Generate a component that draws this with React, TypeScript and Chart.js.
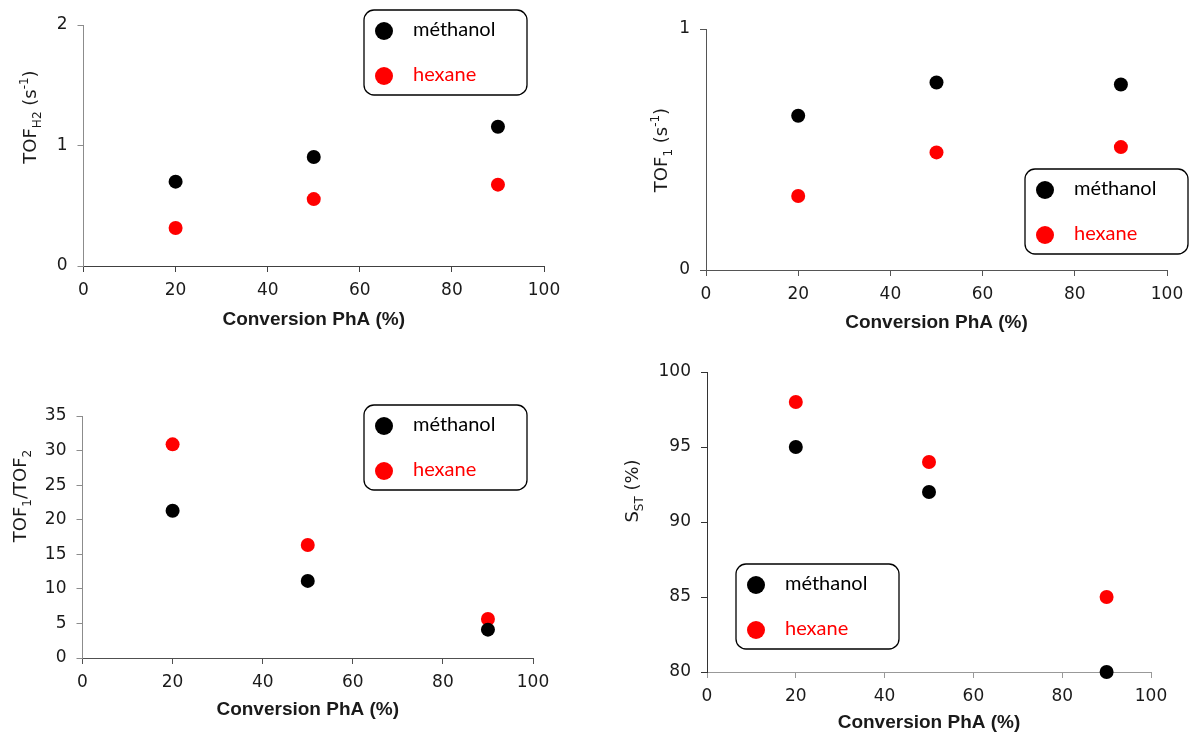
import React, { useEffect, useRef } from 'react';
import { Chart, registerables } from 'chart.js';

Chart.register(...registerables);

// ---------- data ----------
const conversion = [20, 50, 90];
const seriesLabels = ['méthanol', 'hexane'];
const seriesColors = ['#000000', '#ff0000'];

const tofH2Methanol = [0.7, 0.905, 1.155];
const tofH2Hexane = [0.315, 0.555, 0.675];

const tof1Methanol = [0.64, 0.778, 0.77];
const tof1Hexane = [0.307, 0.488, 0.51];

const ratioMethanol = [21.3, 11.15, 4.1];
const ratioHexane = [30.9, 16.35, 5.65];

const sstMethanol = [95, 92, 80];
const sstHexane = [98, 94, 85];

const xTitle = 'Conversion PhA (%)';
const xMin = 0;
const xMax = 100;
const xStep = 20;

// ---------- panel layout ----------
type Seg = [string, string];
interface Panel {
  methanol: number[];
  hexane: number[];
  yMin: number;
  yMax: number;
  yStep: number;
  yTitle: Seg[];
  area: { left: number; top: number; right: number; bottom: number };
  yTitleX: number;
  yTitleY: number;
  legend: { x: number; y: number };
  xTitleOff: number;
  yColor: string;
  xColor: string;
}

const panels: Panel[] = [
  {
    methanol: tofH2Methanol,
    hexane: tofH2Hexane,
    yMin: 0, yMax: 2, yStep: 1,
    yTitle: [['TOF', ''], ['H2', 'sub'], [' (s', ''], ['-1', 'sup'], [')', '']],
    area: { left: 83.5, top: 25, right: 544, bottom: 266 },
    yTitleX: 29, yTitleY: 117,
    legend: { x: 364, y: 10 },
    xTitleOff: 54,
    yColor: '#8c8c8c', xColor: '#404040',
  },
  {
    methanol: tof1Methanol,
    hexane: tof1Hexane,
    yMin: 0, yMax: 1, yStep: 1,
    yTitle: [['TOF', ''], ['1', 'sub'], [' (s', ''], ['-1', 'sup'], [')', '']],
    area: { left: 706, top: 29, right: 1167, bottom: 270 },
    yTitleX: 660, yTitleY: 150,
    legend: { x: 1025, y: 169 },
    xTitleOff: 53,
    yColor: '#555555', xColor: '#555555',
  },
  {
    methanol: ratioMethanol,
    hexane: ratioHexane,
    yMin: 0, yMax: 35, yStep: 5,
    yTitle: [['TOF', ''], ['1', 'sub'], ['/TOF', ''], ['2', 'sub']],
    area: { left: 82.5, top: 416, right: 533, bottom: 658 },
    yTitleX: 19, yTitleY: 496,
    legend: { x: 364, y: 405 },
    xTitleOff: 52,
    yColor: '#8c8c8c', xColor: '#505050',
  },
  {
    methanol: sstMethanol,
    hexane: sstHexane,
    yMin: 80, yMax: 100, yStep: 5,
    yTitle: [['S', ''], ['ST', 'sub'], [' (%)', '']],
    area: { left: 707, top: 372, right: 1151, bottom: 672 },
    yTitleX: 631, yTitleY: 491,
    legend: { x: 736, y: 564 },
    xTitleOff: 51,
    yColor: '#333333', xColor: '#999999',
  },
];

const W = 1192;
const H = 738;
const Y_AXIS_W = 70;
const X_AXIS_H = 66;
const TITLE_SIZE = 19;

function makeDecor(p: Panel) {
  return {
    id: 'decor',
    afterDraw(chart: any) {
      const ctx = chart.ctx as CanvasRenderingContext2D;
      // y-axis title with sub/superscripts
      const base = 18;
      const small = 12;
      const fontFor = (m: string) => `${m ? small : base}px "DejaVu Sans"`;
      ctx.save();
      ctx.translate(p.yTitleX, p.yTitleY);
      ctx.rotate(-Math.PI / 2);
      ctx.fillStyle = '#1a1a1a';
      ctx.textAlign = 'left';
      ctx.textBaseline = 'alphabetic';
      const widths = p.yTitle.map(([s, m]) => {
        ctx.font = fontFor(m);
        return ctx.measureText(s).width;
      });
      const total = widths.reduce((a, b) => a + b, 0);
      let cx = -total / 2;
      const capHalf = base * 0.365;
      p.yTitle.forEach(([s, m], i) => {
        ctx.font = fontFor(m);
        const dy = m === 'sub' ? capHalf + base * 0.3 : m === 'sup' ? capHalf - base * 0.42 : capHalf;
        ctx.fillText(s, cx, dy);
        cx += widths[i];
      });
      ctx.restore();

      // legend box
      const lg = p.legend;
      ctx.save();
      ctx.beginPath();
      (ctx as any).roundRect(lg.x, lg.y, 163, 85, 10);
      ctx.fillStyle = '#ffffff';
      ctx.fill();
      ctx.lineWidth = 1.3;
      ctx.strokeStyle = '#000000';
      ctx.stroke();
      chart.data.datasets.forEach((ds: any, i: number) => {
        const cy = lg.y + 21 + 45 * i;
        ctx.beginPath();
        ctx.arc(lg.x + 20, cy, 9, 0, Math.PI * 2);
        ctx.fillStyle = ds.backgroundColor;
        ctx.fill();
        ctx.font = '20px Lato';
        ctx.textAlign = 'left';
        ctx.textBaseline = 'middle';
        ctx.fillText(ds.label, lg.x + 49, cy - 1);
      });
      ctx.restore();
    },
  };
}

function PanelChart({ p }: { p: Panel }) {
  const ref = useRef<HTMLCanvasElement | null>(null);
  useEffect(() => {
    if (!ref.current) return;
    const tickFont = { family: '"DejaVu Sans"', size: 17 };
    const chart = new Chart(ref.current, {
      type: 'scatter',
      data: {
        datasets: [
          {
            label: seriesLabels[0],
            data: conversion.map((x, i) => ({ x, y: p.methanol[i] })),
            backgroundColor: seriesColors[0],
            borderColor: seriesColors[0],
            pointRadius: 7,
            pointBorderWidth: 0,
            clip: false as any,
          },
          {
            label: seriesLabels[1],
            data: conversion.map((x, i) => ({ x, y: p.hexane[i] })),
            backgroundColor: seriesColors[1],
            borderColor: seriesColors[1],
            pointRadius: 7,
            pointBorderWidth: 0,
            clip: false as any,
          },
        ],
      },
      options: {
        responsive: false,
        animation: false,
        events: [],
        layout: {
          padding: {
            left: p.area.left - Y_AXIS_W,
            top: p.area.top,
            right: W - p.area.right,
            bottom: H - p.area.bottom - X_AXIS_H,
          },
        },
        plugins: {
          legend: { display: false },
          tooltip: { enabled: false },
        },
        scales: {
          x: {
            type: 'linear',
            min: xMin,
            max: xMax,
            ticks: { stepSize: xStep, font: tickFont, color: '#1a1a1a', padding: 8 },
            grid: { display: true, drawOnChartArea: false, drawTicks: true, tickLength: 6, color: p.xColor },
            border: { display: true, color: p.xColor, width: 1 },
            title: {
              display: true,
              text: xTitle,
              color: '#1a1a1a',
              font: { family: '"Liberation Sans"', weight: 'bold', size: TITLE_SIZE, lineHeight: 1 },
              padding: { top: 0, bottom: X_AXIS_H - p.xTitleOff - TITLE_SIZE / 2 },
            },
            afterFit: (s: any) => { s.height = X_AXIS_H; },
          },
          y: {
            type: 'linear',
            min: p.yMin,
            max: p.yMax,
            ticks: { stepSize: p.yStep, font: tickFont, color: '#1a1a1a', padding: 10 },
            grid: { display: true, drawOnChartArea: false, drawTicks: true, tickLength: 6, color: p.yColor },
            border: { display: true, color: p.yColor, width: 1 },
            afterFit: (s: any) => { s.width = Y_AXIS_W; },
          },
        },
      } as any,
      plugins: [makeDecor(p)],
    });
    return () => chart.destroy();
  }, [p]);
  return (
    <canvas
      ref={ref}
      width={W}
      height={H}
      style={{ position: 'absolute', left: 0, top: 0, display: 'block' }}
    />
  );
}

export default function App() {
  return (
    <div style={{ position: 'absolute', left: 0, top: 0, width: W, height: H, background: '#ffffff' }}>
      {panels.map((p, i) => (
        <PanelChart key={i} p={p} />
      ))}
    </div>
  );
}
